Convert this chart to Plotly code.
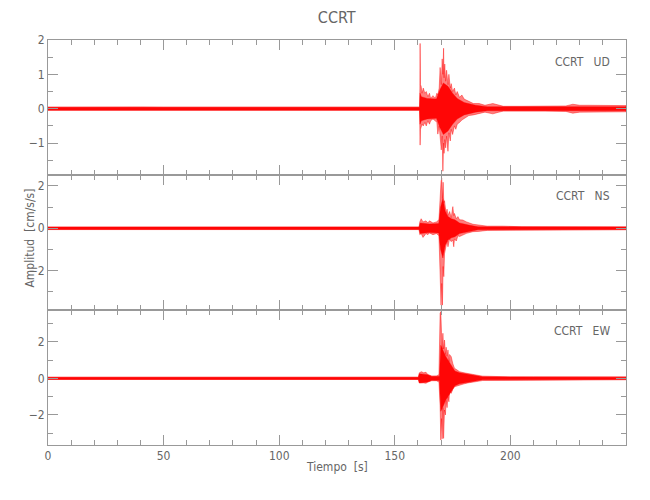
import plotly.graph_objects as go
from plotly.subplots import make_subplots

# ---------------- data (envelope of each trace) ----------------
# outer envelope (extreme peaks)
t_ud = [0, 10, 20, 30, 40, 50, 60, 70, 84, 90, 100, 110, 120, 130, 140, 150,
        160.7, 160.85, 160.95, 161.1, 161.4, 161.8, 162.3, 163, 163.6, 164.3, 165, 165.5, 166.5, 167.5, 168.2, 168.6,
        169.2, 169.6, 170.1, 170.5, 170.8, 171.1, 171.3, 171.6, 172.0, 172.4, 173.0, 173.4, 174.0, 174.4,
        175.0, 175.8, 176.4, 177, 178, 179, 180, 182, 184, 186.5, 189, 192.4, 195, 197, 205, 215, 224, 227,
        230, 234, 240, 250]
ud_upper = [0.045, 0.05, 0.045, 0.045, 0.05, 0.045, 0.045, 0.045, 0.065, 0.045, 0.045, 0.045, 0.045, 0.045, 0.065, 0.045,
            0.045, 0.6, 1.9, 0.7, 0.65, 0.45, 0.6, 0.45, 0.5, 0.35, 0.45, 0.3, 0.38, 0.3, 0.45, 0.4,
            0.6, 1.2, 0.7, 1.45, 1.0, 1.76, 0.9, 1.3, 0.8, 1.12, 0.7, 1.0, 0.6, 0.73,
            0.5, 0.6, 0.4, 0.5, 0.33, 0.4, 0.28, 0.22, 0.15, 0.15, 0.1, 0.15, 0.1, 0.07, 0.07, 0.07, 0.08, 0.13,
            0.1, 0.1, 0.1, 0.09]
ud_lower = [-0.045, -0.045, -0.05, -0.045, -0.045, -0.05, -0.045, -0.045, -0.05, -0.045, -0.045, -0.045, -0.05, -0.045, -0.05, -0.045,
            -0.045, -0.5, -1.06, -0.6, -0.55, -0.45, -0.5, -0.4, -0.5, -0.35, -0.45, -0.35, -0.3, -0.35, -0.4, -0.74,
            -0.5, -0.9, -1.2, -0.8, -1.82, -1.0, -1.3, -0.9, -1.14, -0.8, -1.24, -0.7, -0.94, -0.6,
            -0.75, -0.5, -0.6, -0.45, -0.4, -0.33, -0.28, -0.2, -0.18, -0.15, -0.1, -0.15, -0.1, -0.07, -0.07, -0.07, -0.08, -0.13,
            -0.1, -0.1, -0.1, -0.09]
# dense core of the trace (half-width of the solid band)
t_ud_core = [0, 160.7, 160.9, 161.5, 164, 168, 169.5, 171, 173, 175, 177, 180, 185, 190, 250]
ud_core = [0.045, 0.045, 0.45, 0.35, 0.3, 0.28, 0.55, 0.75, 0.65, 0.45, 0.3, 0.18, 0.1, 0.06, 0.06]

t_ns = [0, 10, 20, 30, 40, 50, 60, 70, 80, 90, 100, 110, 120, 130, 140, 150,
        160.5, 160.8, 161.4, 162.2, 163.5, 164.3, 165, 166.5, 168,
        169.1, 169.6, 170.0, 170.3, 170.6, 170.9, 171.2, 171.5,
        172.2, 172.6, 173, 173.7, 174.4, 175.1, 175.5, 175.8, 176.6, 177.3, 178,
        179.4, 181, 183.8, 186, 190, 197, 205, 215, 225, 228, 235, 250]
ns_upper = [0.06, 0.06, 0.07, 0.06, 0.06, 0.06, 0.07, 0.06, 0.06, 0.06, 0.06, 0.07, 0.06, 0.06, 0.06, 0.06,
            0.06, 0.3, 0.45, 0.3, 0.35, 0.25, 0.35, 0.25, 0.3,
            0.4, 1.6, 2.2, 2.36, 1.4, 2.17, 1.2, 1.3,
            0.7, 0.9, 0.6, 0.79, 0.5, 1.02, 0.6, 0.7, 0.45, 0.55, 0.4,
            0.39, 0.3, 0.19, 0.15, 0.1, 0.1, 0.07, 0.07, 0.07, 0.09, 0.07, 0.07]
ns_lower = [-0.06, -0.06, -0.06, -0.07, -0.06, -0.06, -0.06, -0.06, -0.07, -0.06, -0.06, -0.06, -0.06, -0.07, -0.06, -0.06,
            -0.06, -0.3, -0.25, -0.43, -0.25, -0.3, -0.22, -0.3, -0.25,
            -0.35, -1.5, -3.62, -2.6, -3.62, -1.8, -2.28, -1.2,
            -0.9, -0.6, -0.87, -0.5, -0.63, -0.55, -0.87, -0.5, -0.6, -0.35, -0.39,
            -0.31, -0.24, -0.16, -0.15, -0.1, -0.1, -0.07, -0.07, -0.07, -0.09, -0.07, -0.07]
t_ns_core = [0, 160.5, 161, 165, 169, 169.8, 170.8, 171.8, 173, 174.5, 176, 178, 182, 186, 250]
ns_core = [0.06, 0.06, 0.25, 0.2, 0.22, 1.0, 1.4, 0.8, 0.55, 0.45, 0.4, 0.25, 0.15, 0.07, 0.06]

t_ew = [0, 10, 20, 30, 40, 50, 60, 70, 80, 90, 100, 110, 120, 130, 140, 150,
        160.2, 160.6, 161.5, 162.5, 163.5, 164.3, 166, 168,
        169.1, 169.6, 169.9, 170.2, 170.5, 170.8, 171.1, 171.5, 171.9, 172.2,
        172.6, 173, 173.4, 173.7, 174.4, 175.1, 175.8, 177, 178, 180,
        181.6, 183.5, 185.2, 188, 192, 200, 210, 220, 226, 229, 235, 242, 250]
ew_upper = [0.06, 0.06, 0.055, 0.06, 0.06, 0.06, 0.055, 0.06, 0.06, 0.06, 0.055, 0.06, 0.06, 0.06, 0.06, 0.06,
            0.06, 0.3, 0.36, 0.3, 0.33, 0.2, 0.13, 0.13,
            0.2, 3.55, 3.64, 2.5, 1.6, 2.46, 1.6, 2.09, 1.3, 1.7,
            1.2, 1.55, 0.9, 1.3, 1.18, 0.8, 0.55, 0.45, 0.36, 0.3,
            0.25, 0.2, 0.18, 0.12, 0.1, 0.08, 0.08, 0.08, 0.1, 0.09, 0.08, 0.08, 0.08]
ew_lower = [-0.06, -0.06, -0.06, -0.055, -0.06, -0.06, -0.06, -0.06, -0.055, -0.06, -0.06, -0.06, -0.055, -0.06, -0.06, -0.06,
            -0.06, -0.25, -0.27, -0.25, -0.27, -0.2, -0.13, -0.13,
            -0.2, -1.5, -3.37, -2.2, -3.3, -1.6, -3.28, -1.73, -2.0, -1.2,
            -1.6, -1.0, -1.28, -0.7, -0.82, -0.6, -0.46, -0.4, -0.36, -0.3,
            -0.25, -0.2, -0.18, -0.12, -0.1, -0.08, -0.08, -0.08, -0.1, -0.09, -0.08, -0.08, -0.08]
t_ew_core = [0, 160.2, 160.6, 164.3, 166, 169.3, 169.9, 171, 172, 174, 176, 178, 182, 188, 250]
ew_core = [0.06, 0.06, 0.25, 0.2, 0.1, 0.12, 1.8, 1.5, 1.2, 0.8, 0.4, 0.3, 0.2, 0.08, 0.06]

station = "CCRT"
components = ["UD", "NS", "EW"]
x_ticks = [0, 50, 100, 150, 200]

# ---------------- figure ----------------
TXT = "#666666"
AX = "#999999"
FONT = "Liberation Sans Narrow, DejaVu Sans Condensed, Liberation Sans, sans-serif"

fig = make_subplots(rows=3, cols=1, shared_xaxes=True, vertical_spacing=0)

channels = [(t_ud, ud_upper, ud_lower, t_ud_core, ud_core),
            (t_ns, ns_upper, ns_lower, t_ns_core, ns_core),
            (t_ew, ew_upper, ew_lower, t_ew_core, ew_core)]
for i, (t, up, lo, tc, core) in enumerate(channels, start=1):
    xs = list(t) + list(t)[::-1]
    ys = list(up) + list(lo)[::-1]
    fig.add_trace(go.Scatter(x=xs, y=ys, mode="lines", fill="toself",
                             fillcolor="rgba(255,0,0,0.5)",
                             line=dict(color="rgba(255,0,0,0.85)", width=0.5),
                             hoverinfo="skip", showlegend=False), row=i, col=1)
    xc = list(tc) + list(tc)[::-1]
    yc = list(core) + [-v for v in core][::-1]
    fig.add_trace(go.Scatter(x=xc, y=yc, mode="lines", fill="toself",
                             fillcolor="rgba(255,0,0,0.95)",
                             line=dict(color="rgba(255,0,0,0.9)", width=0.4),
                             hoverinfo="skip", showlegend=False), row=i, col=1)

y_ranges = [[-1.93, 2.0], [-3.85, 2.51], [-3.64, 3.73]]
y_dticks = [1, 2, 2]
y_minor = [0.5, 1, 1]

for i in range(1, 4):
    fig.update_xaxes(range=[0, 250], tickvals=x_ticks, ticks="inside", ticklen=10,
                     tickcolor=AX, showline=True, linecolor=AX, linewidth=1, mirror="ticks",
                     showgrid=False, zeroline=False, automargin=False,
                     minor=dict(ticks="inside", ticklen=5, dtick=10, tick0=0, tickcolor=AX, showgrid=False),
                     showticklabels=(i == 3),
                     tickfont=dict(family=FONT, size=12, color=TXT),
                     row=i, col=1)
    fig.update_yaxes(range=y_ranges[i - 1], dtick=y_dticks[i - 1], tick0=0, ticks="inside", ticklen=10,
                     tickcolor=AX, showline=True, linecolor=AX, linewidth=1, mirror="ticks",
                     showgrid=False, zeroline=False, automargin=False,
                     minor=dict(ticks="inside", ticklen=5, dtick=y_minor[i - 1], tick0=0, tickcolor=AX, showgrid=False),
                     tickfont=dict(family=FONT, size=12, color=TXT),
                     row=i, col=1)

label_y = [0.946, 0.615, 0.281]
annotations = []
for comp, ly in zip(components, label_y):
    annotations.append(dict(text=f"{station}&nbsp;&nbsp;&nbsp;{comp}", x=0.976, y=ly, xref="paper", yref="paper",
                            xanchor="right", yanchor="middle", showarrow=False,
                            font=dict(family=FONT, size=12, color=TXT)))
annotations.append(dict(text="Amplitud&nbsp;&nbsp;[cm/s/s]", x=-0.031, y=0.51, xref="paper", yref="paper",
                        xanchor="center", yanchor="middle", textangle=-90, showarrow=False,
                        font=dict(family=FONT, size=12, color=TXT)))
annotations.append(dict(text="Tiempo&nbsp;&nbsp;[s]", x=0.5, y=-0.054, xref="paper", yref="paper",
                        xanchor="center", yanchor="middle", showarrow=False,
                        font=dict(family=FONT, size=12, color=TXT)))

# page body has an 8px margin: figure is 642x492 so the plot area lands at x 48-626, y 40-445
fig.update_layout(
    width=642, height=492,
    margin=dict(l=40, r=24, t=32, b=55, autoexpand=False),
    paper_bgcolor="white", plot_bgcolor="white",
    title=dict(text=station, x=0.512, xanchor="center", y=0.98, yanchor="middle",
               font=dict(family=FONT, size=16, color=TXT)),
    annotations=annotations,
    showlegend=False,
)

fig.write_html("out.html")
